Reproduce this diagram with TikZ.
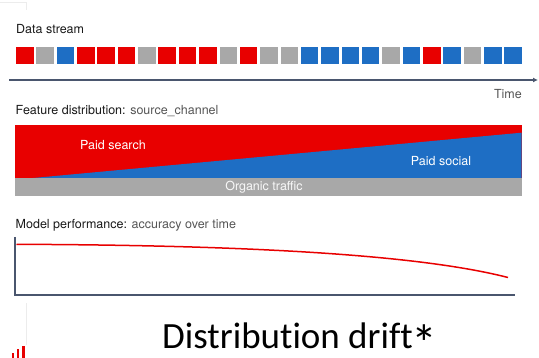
\documentclass[tikz,border=0pt]{standalone}
\usepackage{fontspec}
\setmainfont{TeX Gyre Heros}
\newfontfamily\titlefont[Ligatures=NoCommon]{Carlito}
\usetikzlibrary{arrows.meta}

\definecolor{colR}{RGB}{232,0,0}
\definecolor{colB}{RGB}{30,110,196}
\definecolor{colG}{RGB}{168,168,168}
\definecolor{axiscol}{RGB}{74,86,110}
\definecolor{lbldark}{RGB}{25,25,25}
\definecolor{lbllight}{RGB}{85,85,85}
\definecolor{faint}{RGB}{236,236,236}

\begin{document}
\begin{tikzpicture}[x=1pt,y=-1pt,
  cell/.style={minimum width=17.5pt,minimum height=17.5pt,inner sep=0pt,outer sep=0pt,anchor=north west},
  heading/.style={font=\fontsize{12.5}{14}\selectfont,text=lbldark,anchor=west,inner sep=0pt},
  inband/.style={font=\fontsize{12.5}{14}\selectfont,text=white,inner sep=0pt},
  axisline/.style={draw=axiscol,line width=1.5pt},
  trend/.style={draw=colR,line width=1.5pt}]
\useasboundingbox (0,0) rectangle (539,358);

% slide frame remnants
\draw[faint,line width=0.8pt] (0,2) -- (26,2) -- (26,10);
\draw[faint,line width=0.8pt] (26,303) -- (26,345);
\fill[colR] (11.7,352.7) rectangle (14.3,358);
\fill[colR] (16.7,349.3) rectangle (19.3,358);
\fill[colR] (21.7,345.7) rectangle (25,358);

% data stream
\node[heading] (stream) at (16,29) {Data stream};
\foreach \c [count=\i] in {R,G,B,R,R,R,G,R,R,R,G,R,G,G,B,B,B,B,G,B,R,B,G,B,B}
  \node[cell,fill=col\c] (s\i) at ({16+(\i-1)*20.35},46.7) {};

% time axis
\coordinate (t0) at (9,80);
\coordinate (t1) at (538,80);
\draw[axisline,-{Latex[length=5pt,width=5pt]}] (t0) -- (t1);
\node[heading,anchor=east,text=lbllight] (time) at (522,94) {Time};

% feature distribution
\node[heading] (feat) at (15.5,111.5) {Feature distribution: \textcolor{lbllight}{source\_channel}};
\fill[colR] (15,125) rectangle (521.5,178.3);
\fill[colB] (30,178.3) -- (521.5,132.7) -- (521.5,178.3) -- cycle;
\fill[colG] (15,178.3) rectangle (521.5,196);
\node[inband] (search) at (113,145) {Paid search};
\node[inband] (social) at (441,161) {Paid social};
\node[inband,text=white!92!colG] (organic) at (264,187.5) {Organic traffic};

% model performance
\node[heading] (perf) at (15.5,225) {Model performance: \textcolor{lbllight}{accuracy over time}};
\coordinate (ytop) at (15,237);
\coordinate (orig) at (15,295);
\coordinate (xend) at (515,295);
\draw[axisline] (ytop) -- (orig) -- (xend);
\coordinate (acc0) at (16.5,244.3);
\coordinate (acc1) at (508,277.5);
\draw[trend] (acc0) .. controls (200,245) and (405,251) .. (acc1);

% title
\node[font=\titlefont\fontsize{37}{40}\selectfont,anchor=base west,inner sep=0pt,text depth=0pt] (title) at (162,348.3)
  {Distribution drift\kern-1pt\smash{\raisebox{-13pt}{\scalebox{1.4}{*}}}};
\end{tikzpicture}
\end{document}
